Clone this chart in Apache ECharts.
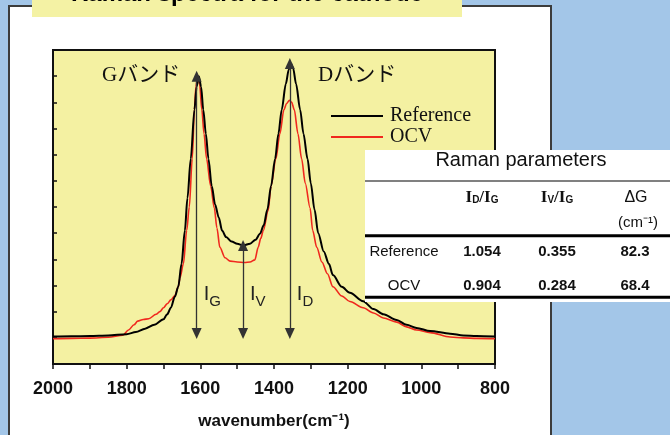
<!DOCTYPE html>
<html>
<head>
<meta charset="utf-8">
<script src="https://cdn.jsdelivr.net/npm/echarts@6/dist/echarts.min.js"></script>
<style>
  html, body { margin: 0; padding: 0; background: #a3c6e8; overflow: hidden; }
  #panel { position: absolute; left: 8px; top: 5px; width: 544px; height: 440px;
           background: #fff; border: 2px solid #3c3c3c; box-sizing: border-box; }
  #main { position: absolute; left: 0; top: 0; width: 670px; height: 435px; }
</style>
</head>
<body>
<div id="panel"></div>
<div id="main"></div>
<script>
// spectra (wavenumber, intensity in tick units)
const refWave = [2000, 1950, 1900, 1850, 1800, 1775, 1750, 1725, 1700, 1690, 1680, 1669, 1660, 1651, 1642, 1635, 1626, 1616, 1610, 1604, 1598, 1592, 1585, 1578, 1569, 1560, 1550, 1541, 1530, 1515, 1500, 1483, 1465, 1450, 1438, 1428, 1418, 1408, 1397, 1388, 1379, 1368, 1360, 1354, 1348, 1340, 1329, 1320, 1309, 1300, 1290, 1280, 1265, 1251, 1240, 1216, 1194, 1158, 1130, 1103, 1067, 1040, 1013, 976, 922, 886, 850, 800];
const refValue = [1.05, 1.06, 1.07, 1.09, 1.14, 1.22, 1.35, 1.5, 1.71, 1.9, 2.15, 2.58, 2.95, 3.83, 5.1, 6.34, 7.84, 9.72, 10.6, 11.0, 10.6, 9.72, 8.8, 7.84, 6.8, 6.1, 5.6, 5.1, 4.85, 4.68, 4.6, 4.53, 4.6, 4.75, 4.98, 5.3, 5.9, 6.8, 7.84, 8.8, 9.72, 10.7, 11.25, 11.48, 11.3, 10.7, 9.72, 8.8, 7.84, 6.9, 5.9, 5.0, 4.3, 3.83, 3.4, 2.95, 2.72, 2.4, 2.1, 1.9, 1.68, 1.5, 1.38, 1.26, 1.16, 1.09, 1.07, 1.05];

const ocvWave = [2000, 1950, 1900, 1850, 1810, 1795, 1780, 1770, 1755, 1740, 1720, 1710, 1700, 1690, 1680, 1669, 1660, 1655, 1646, 1637, 1630, 1622, 1616, 1612, 1607, 1602, 1596, 1590, 1583, 1572, 1562, 1555, 1547, 1533, 1519, 1500, 1480, 1465, 1452, 1443, 1436, 1429, 1416, 1408, 1395, 1384, 1373, 1366, 1358, 1352, 1345, 1335, 1325, 1315, 1302, 1295, 1284, 1270, 1255, 1240, 1216, 1194, 1158, 1130, 1103, 1067, 1040, 1013, 976, 922, 886, 850, 800];
const ocvValue = [0.97, 0.98, 0.99, 1.02, 1.1, 1.3, 1.5, 1.64, 1.7, 1.73, 1.9, 2.0, 2.15, 2.3, 2.45, 2.62, 2.95, 3.3, 3.83, 5.1, 6.0, 7.84, 9.72, 10.6, 11.02, 10.7, 9.72, 8.8, 7.84, 6.8, 5.96, 5.2, 4.46, 4.06, 3.93, 3.9, 3.88, 3.9, 3.98, 4.46, 4.8, 5.1, 5.85, 6.8, 7.84, 8.8, 9.72, 9.95, 10.08, 10.0, 9.72, 8.8, 7.84, 6.9, 5.96, 5.1, 4.46, 3.9, 3.45, 2.95, 2.6, 2.39, 2.15, 1.95, 1.76, 1.6, 1.42, 1.3, 1.2, 1.03, 1.0, 0.98, 0.97];

const xLabelTicks = [2000, 1800, 1600, 1400, 1200, 1000, 800];

// I_G, I_V, I_D arrows
const arrowWave = [1610, 1484, 1357];
const arrowTop = [11.0, 4.53, 11.48];
const arrowBottom = 1.17;
const arrowSub = ['G', 'V', 'D'];

// Raman parameters table
const rowNames = ['Reference', 'OCV'];
const ratioDG = ['1.054', '0.904'];
const ratioVG = ['0.355', '0.284'];
const deltaG = ['82.3', '68.4'];

const SANS = "'Liberation Sans', Arial, sans-serif";
const SERIF = "'Liberation Serif', 'Noto Sans CJK JP', serif";

const myChart = echarts.init(document.getElementById('main'));

function pairs(w, v) {
  return w.map((x, i) => [x, v[i]]);
}

// text runs placed by baseline, so subscripts line up
const measureCtx = document.createElement('canvas').getContext('2d');
function run(x, baseline, segs, align, color) {
  const widths = segs.map(s => {
    measureCtx.font = (s.weight || 'normal') + ' ' + s.size + 'px ' + s.family;
    return measureCtx.measureText(s.t).width;
  });
  const total = widths.reduce((a, b) => a + b, 0);
  let cx = align === 'center' ? x - total / 2 : x;
  return segs.map((s, i) => {
    const el = {
      type: 'text', x: cx, y: baseline + (s.dy || 0) - 0.345 * s.size, z: 100,
      style: {
        text: s.t, fill: color || '#111', fontSize: s.size, fontFamily: s.family,
        fontWeight: s.weight || 'normal', align: 'left', verticalAlign: 'middle'
      }
    };
    cx += widths[i];
    return el;
  });
}

const option = {
  animation: false,
  grid: {
    left: 53, right: 175, top: 50, bottom: 66.5,
    show: true, backgroundColor: '#f4f1a2', borderColor: '#111', borderWidth: 2
  },
  legend: {
    data: ['Reference', 'OCV'],
    orient: 'vertical', left: 331, top: 106, padding: 0,
    itemWidth: 52, itemHeight: 20, itemGap: 1,
    icon: 'path://M0,0H52V2H0Z',
    selectedMode: false,
    textStyle: { fontFamily: SERIF, fontSize: 20, color: '#111', padding: [0, 0, 0, 2] }
  },
  xAxis: {
    type: 'value', inverse: true, min: 800, max: 2000, interval: 100,
    name: 'wavenumber(cm⁻¹)', nameLocation: 'middle', nameGap: 49,
    nameTextStyle: { fontFamily: SANS, fontSize: 17, fontWeight: 'bold', color: '#111' },
    axisLine: { lineStyle: { color: '#111', width: 2 } },
    axisTick: { length: 5, lineStyle: { color: '#111', width: 1.5 } },
    axisLabel: {
      margin: 16, fontFamily: SANS, fontSize: 18, fontWeight: 'bold', color: '#111',
      formatter: v => xLabelTicks.includes(v) ? String(v) : ''
    },
    splitLine: { show: false }
  },
  yAxis: {
    type: 'value', min: 0, max: 12, interval: 1,
    axisLine: { show: true, lineStyle: { color: '#111', width: 2 } },
    axisTick: { show: true, inside: true, length: 4, lineStyle: { color: '#111', width: 1.5 } },
    axisLabel: { show: false },
    splitLine: { show: false }
  },
  series: [
    {
      name: 'OCV', type: 'line', data: pairs(ocvWave, ocvValue),
      symbol: 'none', smooth: 0.3, smoothMonotone: 'x',
      lineStyle: { color: '#f0281e', width: 1.6 }, itemStyle: { color: '#f0281e' }, z: 2
    },
    {
      name: 'Reference', type: 'line', data: pairs(refWave, refValue),
      symbol: 'none', smooth: 0.3, smoothMonotone: 'x',
      lineStyle: { color: '#000', width: 2 }, itemStyle: { color: '#000' }, z: 3,
      markLine: {
        silent: true, symbol: ['triangle', 'triangle'], symbolSize: [10, 11],
        label: { show: false },
        lineStyle: { color: '#333', width: 1.3, type: 'solid' },
        data: arrowWave.map((w, i) => [{ coord: [w, arrowBottom] }, { coord: [w, arrowTop[i]] }])
      }
    }
  ]
};

myChart.setOption(option);

// annotations and the parameter table
const g = [];
g.push({ type: 'rect', shape: { x: 32, y: 0, width: 430, height: 17 }, style: { fill: '#f4f2a4' }, z: 90 });
g.push(...run(247, 2.8, [{ t: 'Raman spectra for the cathode', size: 24, family: SANS, weight: 'bold' }], 'center', '#000'));

g.push(...run(102, 82.7, [{ t: 'Gバンド', size: 21, family: SERIF }], 'left'));
g.push(...run(318, 82.7, [{ t: 'Dバンド', size: 21, family: SERIF }], 'left'));

arrowWave.forEach((w, i) => {
  const px = myChart.convertToPixel({ xAxisIndex: 0 }, w);
  g.push(...run(px + 7, 301.7, [
    { t: 'I', size: 20, family: SANS },
    { t: arrowSub[i], size: 15, family: SANS, dy: 5.6 }
  ], 'left', '#222'));
});

g.push({ type: 'rect', shape: { x: 365, y: 150, width: 305, height: 152 }, style: { fill: '#fff' }, z: 95 });
g.push(...run(521, 167, [{ t: 'Raman parameters', size: 20, family: SANS }], 'center'));
g.push({ type: 'line', shape: { x1: 365, y1: 181, x2: 670, y2: 181 }, style: { stroke: '#808080', lineWidth: 2 }, z: 96 });
g.push({ type: 'line', shape: { x1: 365, y1: 235.7, x2: 670, y2: 235.7 }, style: { stroke: '#000', lineWidth: 3 }, z: 96 });
g.push({ type: 'line', shape: { x1: 365, y1: 297.3, x2: 670, y2: 297.3 }, style: { stroke: '#000', lineWidth: 3 }, z: 96 });

const colX = [482, 557, 636];
function ratioHead(a) {
  return [
    { t: 'I', size: 17, family: SERIF, weight: 'bold' },
    { t: a, size: 10, family: SANS, weight: 'bold', dy: 0.5 },
    { t: '/I', size: 17, family: SERIF, weight: 'bold' },
    { t: 'G', size: 10, family: SANS, weight: 'bold', dy: 0.5 }
  ];
}
g.push(...run(colX[0], 203.3, ratioHead('D'), 'center'));
g.push(...run(colX[1], 203.3, ratioHead('V'), 'center'));
g.push(...run(colX[2], 203.3, [{ t: 'ΔG', size: 16, family: SANS }], 'center'));
g.push(...run(colX[2] + 2, 228.5, [{ t: '(cm⁻¹)', size: 15, family: SANS }], 'center'));

const rowBase = [257.5, 291.5];
rowNames.forEach((name, i) => {
  g.push(...run(404, rowBase[i], [{ t: name, size: 15, family: SANS }], 'center'));
  g.push(...run(colX[0], rowBase[i], [{ t: ratioDG[i], size: 15, family: SANS, weight: 'bold' }], 'center'));
  g.push(...run(colX[1], rowBase[i], [{ t: ratioVG[i], size: 15, family: SANS, weight: 'bold' }], 'center'));
  g.push(...run(colX[2] - 1, rowBase[i], [{ t: deltaG[i], size: 15, family: SANS, weight: 'bold' }], 'center'));
});

myChart.setOption({ graphic: g });
</script>
</body>
</html>
